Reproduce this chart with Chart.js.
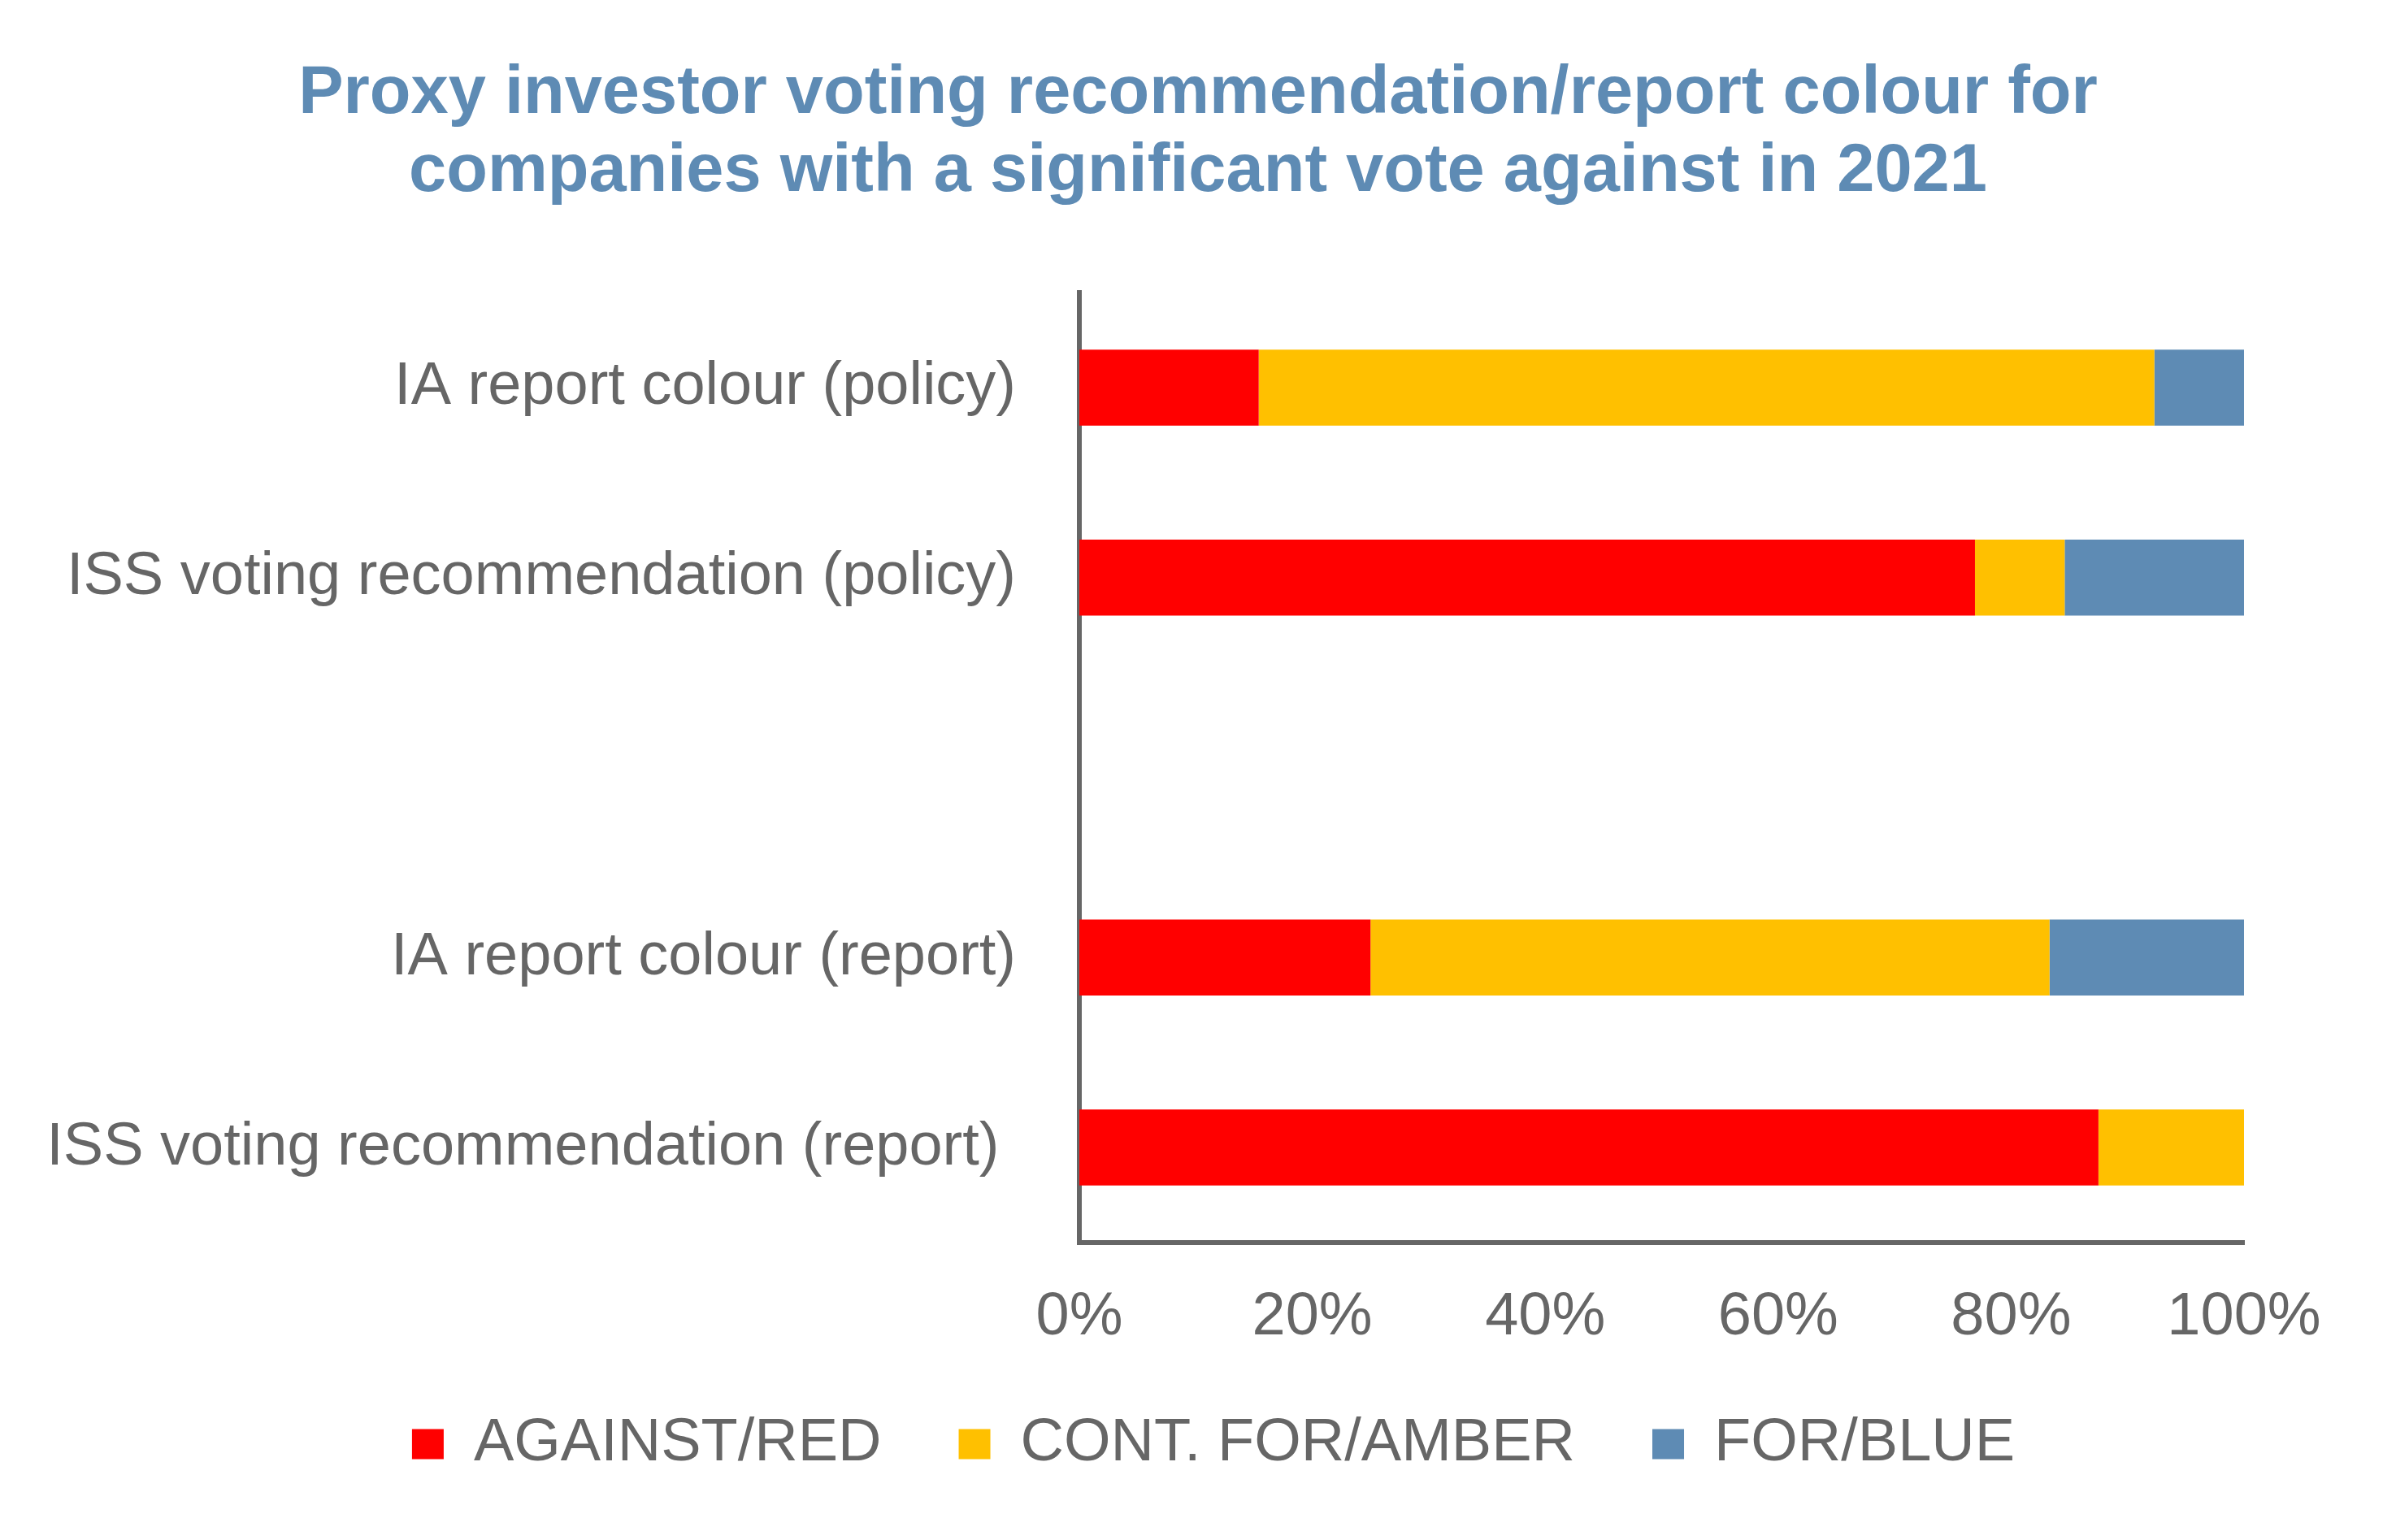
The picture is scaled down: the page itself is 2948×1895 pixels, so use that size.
<!DOCTYPE html>
<html lang="en">
<head>
  <meta charset="UTF-8">
  <title>Proxy investor voting recommendation</title>
  <script src="https://cdn.jsdelivr.net/npm/chart.js"></script>
  <style>
    html, body { margin: 0; padding: 0; background: #fff; }
    #wrap { width: 2948px; height: 1895px; position: relative; }
  </style>
</head>
<body>
  <div id="wrap"><canvas id="chart"></canvas></div>

  <script>
    // categories, top to bottom (empty slot keeps the gap between the two groups)
    const categories = [
      'IA report colour (policy)',
      'ISS voting recommendation (policy)',
      '',
      'IA report colour (report)',
      'ISS voting recommendation (report) '
    ];

    // shares in percent
    const againstRed = [15.4, 76.9, null, 25.0, 87.5];
    const contForAmber = [76.9, 7.7, null, 58.3, 12.5];
    const forBlue = [7.7, 15.4, null, 16.7, 0];

    const xTicks = [0, 20, 40, 60, 80, 100];

    const grey = '#666666';
    const font = 'Liberation Sans, Arial, sans-serif';

    // legend sits a little right of the page centre in the original
    const nudgeLegend = {
      id: 'nudgeLegend',
      afterLayout(chart) {
        chart.legend.left += 19;
        chart.legend.right += 19;
      }
    };

    new Chart(document.getElementById('chart'), {
      type: 'bar',
      data: {
        labels: categories,
        datasets: [
          { label: 'AGAINST/RED', data: againstRed, backgroundColor: '#FF0000' },
          { label: 'CONT. FOR/AMBER', data: contForAmber, backgroundColor: '#FFC000' },
          { label: 'FOR/BLUE', data: forBlue, backgroundColor: '#5E8BB4' }
        ]
      },
      plugins: [nudgeLegend],
      options: {
        indexAxis: 'y',
        responsive: true,
        maintainAspectRatio: false,
        devicePixelRatio: 1,
        animation: false,
        datasets: {
          bar: { barPercentage: 0.4, categoryPercentage: 1.0, borderWidth: 0 }
        },
        layout: { padding: { left: 0, right: 0, top: 0, bottom: 71 } },
        plugins: {
          tooltip: { enabled: false },
          title: {
            display: true,
            text: [
              'Proxy investor voting recommendation/report colour for',
              'companies with a significant vote against in 2021'
            ],
            color: '#5E8BB4',
            font: { family: font, size: 83, weight: 'bold', lineHeight: 96 / 83 },
            padding: { top: 68, bottom: 100 }
          },
          legend: {
            position: 'bottom',
            labels: {
              color: grey,
              font: { family: font, size: 74 },
              boxWidth: 39,
              boxHeight: 37,
              padding: 95
            }
          }
        },
        scales: {
          x: {
            stacked: true,
            min: 0,
            max: 100,
            afterBuildTicks: s => { s.ticks = xTicks.map(v => ({ value: v })); },
            afterFit: s => { s.height = 116; },
            grid: { display: false },
            border: { display: true, color: grey, width: 6 },
            ticks: {
              color: grey,
              font: { family: font, size: 74 },
              padding: 40,
              maxRotation: 0,
              callback: v => v + '%'
            }
          },
          y: {
            stacked: true,
            z: 1,
            afterFit: s => { s.width = 1328; },
            grid: { display: false },
            border: { display: true, color: grey, width: 6 },
            ticks: {
              color: grey,
              font: { family: font, size: 74 },
              padding: 70,
              autoSkip: false
            }
          },
          yRight: {
            type: 'category',
            position: 'right',
            afterFit: s => { s.width = 187; },
            grid: { display: false },
            border: { display: false },
            ticks: { display: false }
          }
        }
      }
    });
  </script>
</body>
</html>
